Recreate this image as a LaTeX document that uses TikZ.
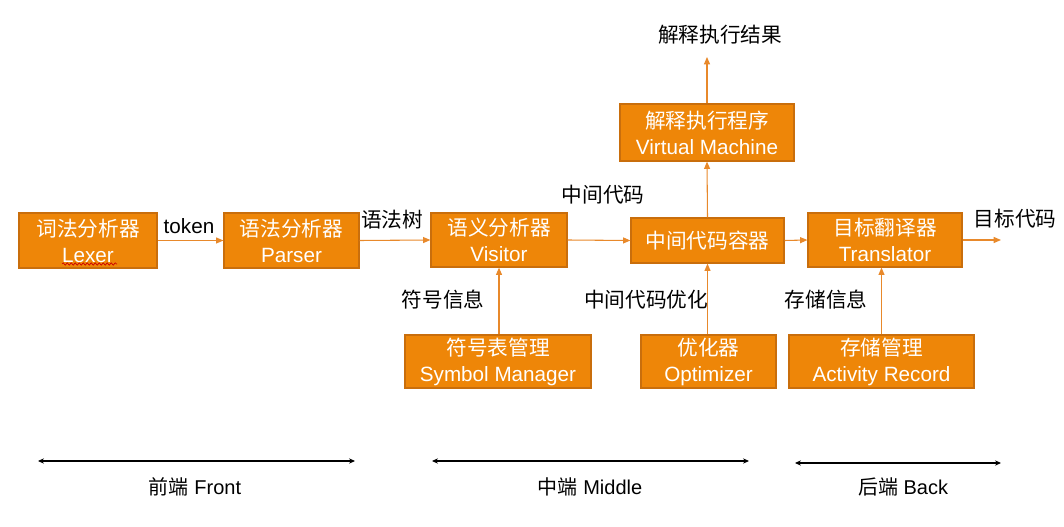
\documentclass[tikz,border=0pt]{standalone}
\usepackage{fontspec}
\setmainfont{Liberation Sans}
\newfontfamily\cjk{Noto Sans CJK SC}
\usetikzlibrary{arrows.meta,decorations.pathmorphing}
\definecolor{boxfill}{HTML}{EE8608}
\definecolor{boxline}{HTML}{C96E0C}
\definecolor{arr}{HTML}{E8892B}
\newcommand{\zh}[1]{{\cjk #1}}
\begin{document}
\begin{tikzpicture}[x=0.75pt,y=-0.75pt,
  blk/.style={draw=boxline,line width=0.9pt,fill=boxfill,text=white,align=center,
    inner sep=0pt,font=\fontsize{15.5}{19.5}\selectfont},
  conn/.style={draw=arr,line width=0.8pt,-{Triangle[length=5.5pt,width=4.5pt]}},
  lbl/.style={font=\fontsize{15.5}{18}\selectfont,text=black,inner sep=0pt},
  span/.style={draw=black,line width=0.9pt,{Stealth[length=4.5pt,width=4pt]}-{Stealth[length=4.5pt,width=4pt]}},
  spanlbl/.style={font=\fontsize{15}{17}\selectfont,inner sep=0pt}]
\useasboundingbox (0,0) rectangle (1064,527);
% boxes (pixel corners)
\node[blk,minimum width=138*0.75pt,minimum height=55*0.75pt] (lexer) at (88,240.5) {\zh{词法分析器}\\Lexer};
\node[blk,minimum width=135*0.75pt,minimum height=55*0.75pt] (parser) at (291.5,240.5) {\zh{语法分析器}\\Parser};
\node[blk,minimum width=136*0.75pt,minimum height=54*0.75pt] (visitor) at (499,240) {\zh{语义分析器}\\Visitor};
\node[blk,minimum width=153*0.75pt,minimum height=45*0.75pt] (ir) at (707.5,240.5) {\zh{中间代码容器}};
\node[blk,minimum width=174*0.75pt,minimum height=57*0.75pt] (vm) at (707,132.5) {\zh{解释执行程序}\\Virtual Machine};
\node[blk,minimum width=154*0.75pt,minimum height=54*0.75pt] (trans) at (885,240) {\zh{目标翻译器}\\Translator};
\node[blk,minimum width=186*0.75pt,minimum height=53*0.75pt] (sym) at (498,361.5) {\zh{符号表管理}\\Symbol Manager};
\node[blk,minimum width=135*0.75pt,minimum height=53*0.75pt] (opt) at (708.5,361.5) {\zh{优化器}\\Optimizer};
\node[blk,minimum width=185*0.75pt,minimum height=53*0.75pt] (act) at (881.5,361.5) {\zh{存储管理}\\Activity Record};
% spell-check squiggle under Lexer
\coordinate (sq1) at (62,264);
\coordinate (sq2) at (117,264);
\draw[red!80!black,line width=0.5pt,decorate,decoration={snake,amplitude=0.9pt,segment length=3pt}] (sq1) -- (sq2);
% free ends
\coordinate (vmout) at (707,57);
\coordinate (tout) at (1001,240);
% connectors
\draw[conn] (lexer.east) -- (parser.west);
\draw[conn] (parser.east) -- (visitor.west);
\draw[conn] (visitor.east) -- (ir.west);
\draw[conn] (ir.east) -- (trans.west);
\draw[conn] (trans.east) -- (tout);
\draw[conn] (ir.north) -- (vm.south);
\draw[conn] (vm.north) -- (vmout);
\draw[conn] (sym.north -| visitor.south) -- (visitor.south);
\draw[conn] (opt.north -| ir.south) -- (ir.south);
\draw[conn] (act.north) -- (act.north |- trans.south);
% labels
\node[lbl] (ltok) at (189,226) {token};
\node[lbl] (lyf) at (392,220) {\zh{语法树}};
\node[lbl] (lzj) at (603,195) {\zh{中间代码}};
\node[lbl] (lmb) at (1015,219) {\zh{目标代码}};
\node[lbl] (ljg) at (720,35) {\zh{解释执行结果}};
\node[lbl] (lfh) at (443,300) {\zh{符号信息}};
\node[lbl] (lyh) at (646,300) {\zh{中间代码优化}};
\node[lbl] (lcc) at (826,300) {\zh{存储信息}};
% bottom spans
\coordinate (f1) at (38,461); \coordinate (f2) at (355,461);
\coordinate (m1) at (432,461); \coordinate (m2) at (749,461);
\coordinate (b1) at (795,463); \coordinate (b2) at (1001,463);
\draw[span] (f1) -- (f2);
\draw[span] (m1) -- (m2);
\draw[span] (b1) -- (b2);
\node[spanlbl] (lf) at (195,487) {\zh{前端} Front};
\node[spanlbl] (lm) at (590,487) {\zh{中端} Middle};
\node[spanlbl] (lb) at (903,487) {\zh{后端} Back};
\end{tikzpicture}
\end{document}
